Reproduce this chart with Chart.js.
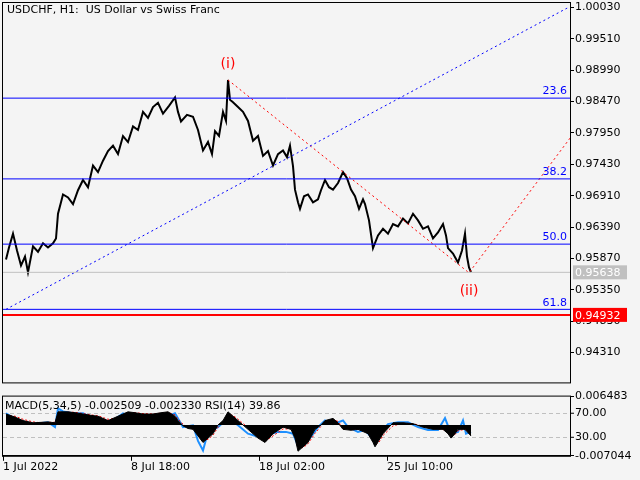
<!DOCTYPE html>
<html>
<head>
<meta charset="utf-8">
<script src="https://cdn.jsdelivr.net/npm/chart.js@4"></script>
<style>
  body { margin: 0; background: #f4f4f4; }
  #wrap { position: relative; width: 640px; height: 480px; }
  #priceBox { position: absolute; left: 0; top: 0; width: 640px; height: 390px; }
  #macdBox { position: absolute; left: 0; top: 389px; width: 640px; height: 91px; }
</style>
</head>
<body>
<div id="wrap">
  <div id="priceBox"><canvas id="priceChart"></canvas></div>
  <div id="macdBox"><canvas id="macdChart"></canvas></div>
</div>
<script>
const FONT = "DejaVu Sans"

// price pane (x = bar position on the chart, y = price)
const priceX = [3, 6, 10, 14, 18, 22, 25, 30, 35, 40, 45, 50, 53, 55, 58, 60, 65, 70, 75, 80, 85, 90, 95, 100, 105, 110, 115, 120, 125, 130, 135, 140, 145, 150, 155, 160, 166, 172, 175, 178, 184, 190, 195, 200, 205, 209, 212, 216, 220, 223, 225, 227, 230, 235, 240, 245, 250, 255, 260, 265, 270, 275, 280, 284, 287, 290, 292, 295, 297, 301, 305, 310, 315, 318, 322, 326, 330, 335, 340, 344, 348, 352, 356, 360, 362, 366, 370, 375, 380, 385, 390, 395, 400, 405, 410, 415, 420, 425, 430, 435, 440, 443, 445, 450, 455, 459, 462, 464, 466, 468]
const priceY = [0.9585, 0.9605, 0.9628, 0.9600, 0.9575, 0.9590, 0.9564, 0.9607, 0.9598, 0.9612, 0.9605, 0.9612, 0.9620, 0.9661, 0.9680, 0.9693, 0.9688, 0.9677, 0.9700, 0.9717, 0.9705, 0.9741, 0.9730, 0.9749, 0.9765, 0.9774, 0.9760, 0.9790, 0.9780, 0.9806, 0.9800, 0.9830, 0.9820, 0.9838, 0.9845, 0.9827, 0.9840, 0.9854, 0.9830, 0.9814, 0.9825, 0.9822, 0.9800, 0.9766, 0.9780, 0.9760, 0.9798, 0.9790, 0.9830, 0.9815, 0.9883, 0.9850, 0.9846, 0.9838, 0.9830, 0.9815, 0.9782, 0.9790, 0.9757, 0.9765, 0.9741, 0.9760, 0.9766, 0.9755, 0.9774, 0.9740, 0.9701, 0.9680, 0.9669, 0.9690, 0.9693, 0.9680, 0.9685, 0.9700, 0.9717, 0.9705, 0.9701, 0.9712, 0.9730, 0.9720, 0.9701, 0.9690, 0.9669, 0.9685, 0.9677, 0.9650, 0.9604, 0.9625, 0.9636, 0.9628, 0.9644, 0.9640, 0.9653, 0.9645, 0.9661, 0.9650, 0.9636, 0.9640, 0.9620, 0.9630, 0.9644, 0.9625, 0.9604, 0.9595, 0.9580, 0.9600, 0.9628, 0.9590, 0.9572, 0.9564]

const fibLevels = [0.98528, 0.97188, 0.96106, 0.95024]
const fibLabels = ["23.6", "38.2", "50.0", "61.8"]
const bidPrice = 0.95638
const stopPrice = 0.94932
const trendX = [3, 565]
const trendY = [0.95024, 1.0003]
const waveX = [225, 466, 570]
const waveY = [0.9883, 0.9563, 0.9793]
const waveLabels = ["(i)", "(ii)"]
const priceTicks = [1.0003, 0.9951, 0.9899, 0.9847, 0.9795, 0.9743, 0.9691, 0.9639, 0.9587, 0.9535, 0.9483, 0.9431]

// indicator pane
const macdX = [3, 12, 20, 30, 38, 45, 52, 55, 65, 72, 80, 88, 95, 105, 115, 125, 132, 140, 150, 158, 165, 172, 175, 180, 185, 190, 195, 200, 205, 210, 215, 220, 225, 230, 235, 245, 255, 262, 270, 280, 288, 292, 295, 300, 305, 312, 318, 322, 330, 335, 340, 348, 355, 365, 370, 372, 376, 380, 390, 400, 410, 420, 430, 440, 445, 448, 452, 455, 462, 468]
const macdHist = [0.0025, 0.0018, 0.0010, 0.0005, 0.0006, 0.0007, 0.0005, 0.0030, 0.0030, 0.0028, 0.0025, 0.0022, 0.0020, 0.0010, 0.0020, 0.0030, 0.0028, 0.0025, 0.0025, 0.0028, 0.0030, 0.0020, 0.0010, -0.0002, -0.0008, -0.0010, -0.0025, -0.0040, -0.0030, -0.0020, 0.0000, 0.0010, 0.0030, 0.0020, 0.0010, -0.0010, -0.0030, -0.0040, -0.0020, -0.0005, -0.0010, -0.0030, -0.0060, -0.0050, -0.0040, -0.0010, 0.0000, 0.0010, 0.0015, 0.0005, -0.0010, -0.0012, -0.0010, -0.0020, -0.0040, -0.0050, -0.0035, -0.0020, 0.0005, 0.0005, 0.0003, -0.0005, -0.0010, -0.0010, -0.0020, -0.0030, -0.0020, -0.0010, -0.0010, -0.0025]
const macdSignal = [0.0022, 0.0020, 0.0013, 0.0007, 0.0005, 0.0006, 0.0006, 0.0022, 0.0029, 0.0029, 0.0026, 0.0023, 0.0021, 0.0013, 0.0016, 0.0026, 0.0028, 0.0026, 0.0025, 0.0027, 0.0029, 0.0023, 0.0013, 0.0002, -0.0005, -0.0009, -0.0020, -0.0035, -0.0033, -0.0023, -0.0005, 0.0007, 0.0024, 0.0022, 0.0013, -0.0006, -0.0024, -0.0037, -0.0025, -0.0009, -0.0009, -0.0024, -0.0050, -0.0052, -0.0043, -0.0019, -0.0003, 0.0007, 0.0013, 0.0008, -0.0006, -0.0011, -0.0010, -0.0017, -0.0034, -0.0047, -0.0039, -0.0024, -0.0002, 0.0004, 0.0003, -0.0003, -0.0008, -0.0010, -0.0017, -0.0027, -0.0022, -0.0013, -0.0010, -0.0021]
const rsiX = [3, 15, 30, 45, 52, 55, 60, 70, 80, 90, 100, 110, 120, 125, 135, 150, 165, 172, 180, 190, 195, 200, 205, 215, 225, 235, 245, 255, 265, 275, 283, 290, 295, 300, 308, 315, 322, 330, 340, 345, 355, 362, 370, 378, 385, 395, 405, 415, 425, 435, 442, 448, 455, 460, 463, 468]
const rsiValues = [70, 58, 52, 55, 47, 78, 73, 70, 70, 62, 55, 58, 70, 67, 58, 62, 65, 70, 47, 50, 24, 8, 39, 47, 62, 50, 36, 31, 34, 39, 39, 36, 16, 16, 31, 47, 58, 52, 58, 47, 39, 42, 27, 39, 52, 55, 55, 47, 42, 42, 62, 36, 39, 58, 36, 39]
const rsiLevels = [70, 30]
const macdTicks = [0.006483, -0.007044]
const timeTickX = [0, 128, 256, 384]
const timeTickLabels = ["1 Jul 2022", "8 Jul 18:00", "18 Jul 02:00", "25 Jul 10:00"]

const pts = (xs, ys) => xs.map((x, i) => ({ x: x, y: ys[i] }))

const linePlot = (data, color, width, dash) => ({
  type: "line", data: data, borderColor: color, borderWidth: width,
  borderDash: dash || [], pointRadius: 0, fill: false, tension: 0
})

// frame, titles and price boxes on the price pane
const pricePlugin = {
  id: "pricePlugin",
  afterDraw(chart) {
    const ctx = chart.ctx, a = chart.chartArea, y = chart.scales.y, x = chart.scales.x
    ctx.save()
    ctx.strokeStyle = "#000"
    ctx.lineWidth = 1
    ctx.strokeRect(2.5, 2.5, a.right - 2, a.bottom - 2)
    ctx.font = `11px ${FONT}`
    ctx.fillStyle = "#000"
    ctx.textBaseline = "top"
    ctx.fillText("USDCHF, H1:  US Dollar vs Swiss Franc", 7, 5)

    ctx.fillStyle = "#0000ff"
    ctx.textAlign = "right"
    ctx.textBaseline = "bottom"
    fibLevels.forEach((lvl, i) => ctx.fillText(fibLabels[i], a.right - 3, y.getPixelForValue(lvl) - 1))

    ctx.font = `14px ${FONT}`
    ctx.fillStyle = "#ff0000"
    ctx.textAlign = "center"
    ctx.fillText(waveLabels[0], x.getPixelForValue(waveX[0]), y.getPixelForValue(waveY[0]) - 9)
    ctx.textBaseline = "top"
    ctx.fillText(waveLabels[1], x.getPixelForValue(waveX[1]), y.getPixelForValue(waveY[1]) + 12)

    ctx.font = `11px ${FONT}`
    ctx.textAlign = "left"
    ctx.textBaseline = "middle"
    const box = (val, bg) => {
      const py = y.getPixelForValue(val)
      ctx.fillStyle = bg
      ctx.fillRect(a.right + 3, py - 7, 54, 14)
      ctx.fillStyle = "#fff"
      ctx.fillText(val.toFixed(5), a.right + 5, py + 1)
    }
    box(bidPrice, "#c0c0c0")
    box(stopPrice, "#ff0000")
    ctx.restore()
  }
}

new Chart(document.getElementById("priceChart"), {
  type: "line",
  data: {
    datasets: [
      ...fibLevels.map(lvl => linePlot(pts([0, 567], [lvl, lvl]), "#0000ff", 1)),
      linePlot(pts([0, 567], [bidPrice, bidPrice]), "#c0c0c0", 1),
      linePlot(pts([0, 567], [stopPrice, stopPrice]), "#ff0000", 2),
      linePlot(pts(trendX, trendY), "#0000ff", 1, [2, 3]),
      linePlot(pts(waveX, waveY), "#ff0000", 1, [2, 3]),
      linePlot(pts(priceX, priceY), "#000", 2)
    ]
  },
  options: {
    responsive: true, maintainAspectRatio: false, animation: false,
    layout: { padding: { left: 3, top: 3, right: 0, bottom: 2 } },
    plugins: { legend: { display: false }, tooltip: { enabled: false } },
    scales: {
      x: { type: "linear", min: 0, max: 567, display: false },
      y: {
        position: "right", min: 0.93812, max: 1.0003,
        afterFit: s => { s.width = 70 },
        afterBuildTicks: s => { s.ticks = priceTicks.map(v => ({ value: v })) },
        grid: { drawOnChartArea: false, color: "#000", tickLength: 4 },
        border: { color: "#000" },
        ticks: { color: "#000", font: { family: FONT, size: 11 }, padding: 1, callback: v => v.toFixed(5) }
      }
    }
  },
  plugins: [pricePlugin]
})

const macdPlugin = {
  id: "macdPlugin",
  beforeDatasetsDraw(chart) {
    const ctx = chart.ctx, a = chart.chartArea, r = chart.scales.rsi
    ctx.save()
    ctx.strokeStyle = "#c0c0c0"
    ctx.setLineDash([4, 3])
    rsiLevels.forEach(l => {
      const py = Math.round(r.getPixelForValue(l)) + 0.5
      ctx.beginPath(); ctx.moveTo(a.left, py); ctx.lineTo(a.right, py); ctx.stroke()
    })
    ctx.restore()
  },
  afterDraw(chart) {
    const ctx = chart.ctx, a = chart.chartArea, r = chart.scales.rsi
    ctx.save()
    ctx.strokeStyle = "#000"
    ctx.strokeRect(2.5, a.top - 0.5, a.right - 2, a.bottom - a.top + 1)
    ctx.font = `11px ${FONT}`
    ctx.fillStyle = "#000"
    ctx.textBaseline = "top"
    ctx.fillText("MACD(5,34,5) -0.002509 -0.002330 RSI(14) 39.86", 5, a.top + 4)
    ctx.textAlign = "left"
    ctx.textBaseline = "middle"
    rsiLevels.forEach(l => {
      const py = r.getPixelForValue(l)
      ctx.beginPath(); ctx.moveTo(a.right, py); ctx.lineTo(a.right + 4, py); ctx.stroke()
      ctx.fillText(l.toFixed(2), a.right + 5, py)
    })
    ctx.restore()
  }
}

new Chart(document.getElementById("macdChart"), {
  type: "line",
  data: {
    datasets: [
      { ...linePlot(pts(macdX, macdHist), "#000", 1), fill: { value: 0 }, backgroundColor: "#000", yAxisID: "y" },
      { ...linePlot(pts(macdX, macdSignal), "#ff0000", 1, [2, 2]), yAxisID: "y" },
      { ...linePlot(pts(rsiX, rsiValues), "#1e90ff", 2), yAxisID: "rsi" }
    ]
  },
  options: {
    responsive: true, maintainAspectRatio: false, animation: false,
    layout: { padding: { left: 3, top: 3, right: 0, bottom: 6 } },
    plugins: { legend: { display: false }, tooltip: { enabled: false }, filler: { propagate: false } },
    scales: {
      x: {
        type: "linear", min: 0, max: 567,
        afterBuildTicks: s => { s.ticks = timeTickX.map(v => ({ value: v })) },
        grid: { drawOnChartArea: false, color: "#000", tickLength: 5 },
        border: { color: "#000" },
        ticks: {
          color: "#000", font: { family: FONT, size: 11 }, align: "start", maxRotation: 0, padding: 0,
          callback: (v, i) => timeTickLabels[i]
        }
      },
      y: {
        position: "right", min: -0.007044, max: 0.006483,
        afterFit: s => { s.width = 70 },
        afterBuildTicks: s => { s.ticks = macdTicks.map(v => ({ value: v })) },
        grid: { drawOnChartArea: false, color: "#000", tickLength: 4 },
        border: { color: "#000" },
        ticks: { color: "#000", font: { family: FONT, size: 11 }, padding: 1, callback: v => v.toFixed(6) }
      },
      rsi: { position: "right", min: -0.8, max: 97.7, display: false }
    }
  },
  plugins: [macdPlugin]
})
</script>
</body>
</html>
